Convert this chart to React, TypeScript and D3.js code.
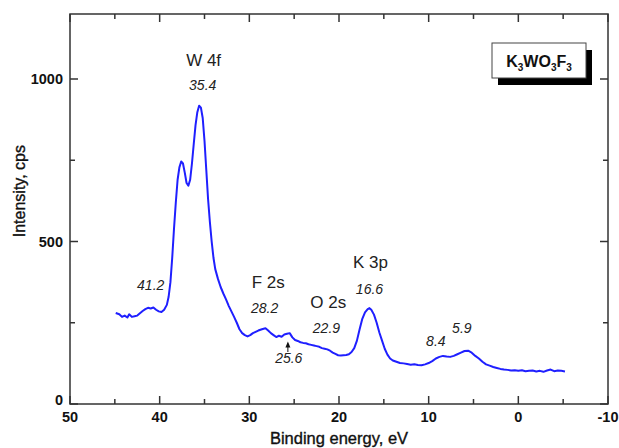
import React, { useEffect, useRef } from 'react';
import * as d3 from 'd3';

// XPS spectrum of K3WO3F3
const energy = [
  44.9, 44.5, 44.2, 43.9, 43.6, 43.4, 43.1, 42.8, 42.5, 42.2, 41.9, 41.6, 41.3, 41.0, 40.7, 40.4, 40.1, 39.8, 39.5,
  39.2, 39.0, 38.8, 38.6, 38.4, 38.2, 38.0, 37.8, 37.6, 37.4, 37.2, 37.0, 36.8, 36.6, 36.4, 36.2, 36.0, 35.8,
  35.6, 35.4, 35.2, 35.0, 34.8, 34.6, 34.4, 34.2, 34.0, 33.8, 33.5, 33.2, 32.9, 32.6, 32.3, 32.0, 31.7, 31.4,
  31.1, 30.8, 30.5, 30.2, 29.9, 29.6, 29.3, 29.0, 28.6, 28.2, 27.9, 27.6, 27.3, 27.0, 26.7, 26.4, 26.1, 25.8,
  25.5, 25.2, 24.9, 24.6, 24.3, 24.0, 23.7, 23.4, 23.1, 22.8, 22.5, 22.2, 21.9, 21.6, 21.3, 21.0, 20.7, 20.4,
  20.1, 19.8, 19.5, 19.2, 18.9, 18.6, 18.3, 18.0, 17.7, 17.4, 17.1, 16.8, 16.6, 16.4, 16.1, 15.8, 15.5, 15.2,
  14.9, 14.6, 14.3, 14.0, 13.6, 13.2, 12.8, 12.4, 12.0, 11.6, 11.2, 10.8, 10.4, 10.0, 9.6, 9.2, 8.8, 8.4, 8.0,
  7.6, 7.2, 6.8, 6.4, 6.0, 5.6, 5.2, 4.8, 4.4, 4.0, 3.6, 3.2, 2.8, 2.4, 2.0, 1.6, 1.2, 0.8, 0.4, 0.0, -0.4,
  -0.8, -1.2, -1.6, -2.0, -2.4, -2.8, -3.2, -3.6, -4.0, -4.4, -4.8, -5.2,
];
const intensity = [
  280, 276, 268, 272, 266, 276, 268, 270, 272, 279, 286, 292, 296, 294, 297, 290, 285, 283, 290,
  305, 330, 375, 450, 540, 620, 690, 728, 746, 740, 712, 680, 672, 690, 740, 800, 858, 898,
  918, 912, 880, 810, 720, 630, 560, 500, 450, 415, 385, 360, 340, 322, 302, 285, 268, 250,
  230, 218, 212, 208, 212, 218, 222, 226, 230, 233, 226, 218, 212, 206, 210, 207, 214, 216,
  218, 205, 197, 194, 190, 188, 187, 184, 182, 180, 178, 176, 172, 170, 168, 164, 158, 154,
  150, 149, 150, 151, 153, 160, 172, 195, 230, 262, 282, 292, 295, 290, 275, 250, 220, 195,
  170, 152, 140, 134, 130, 126, 125, 123, 121, 122, 120, 119, 122, 126, 132, 140, 145, 148, 146,
  145, 148, 153, 158, 163, 164, 158, 148, 140, 130, 122, 118, 114, 111, 108, 106, 105, 103, 104, 102, 104,
  101, 102, 103, 100, 102, 99, 103, 106, 101, 103, 102, 100,
];

const xTicks = [50, 40, 30, 20, 10, 0, -10];
const yTicks = [0, 500, 1000];

// peak annotations
const labelText = ['W 4f', '35.4', '41.2', 'F 2s', '28.2', 'O 2s', '22.9', 'K 3p', '16.6', '8.4', '5.9', '25.6'];
const labelX = [35.1, 35.2, 41.0, 27.9, 28.3, 21.2, 21.4, 16.5, 16.6, 9.2, 6.3, 25.6];
const labelY = [1040, 967, 352, 358, 280, 294, 220, 417, 340, 180, 220, 125];
const labelItalic = [false, true, true, false, true, false, true, false, true, true, true, true];

const legendParts = ['K', '3', 'WO', '3', 'F', '3'];

const W = 619;
const H = 448;
const margin = { top: 14, right: 11, bottom: 44, left: 70 };
const font = '"Liberation Sans", Arial, sans-serif';

export default function App() {
  const ref = useRef<SVGSVGElement>(null);

  useEffect(() => {
    const svg = d3.select(ref.current);
    svg.selectAll('*').remove();

    const x = d3.scaleLinear().domain([50, -10]).range([margin.left, W - margin.right]);
    const y = d3.scaleLinear().domain([0, 1200]).range([H - margin.bottom, margin.top]);

    const x0 = x(50), x1 = x(-10), y0 = y(0), y1 = y(1200);

    // frame
    svg.append('rect')
      .attr('x', x0).attr('y', y1)
      .attr('width', x1 - x0).attr('height', y0 - y1)
      .attr('fill', 'none').attr('stroke', '#333').attr('stroke-width', 1.5);

    const ticks = svg.append('g').attr('stroke', '#333').attr('stroke-width', 1.5);
    d3.range(50, -10.1, -5).forEach((v) => {
      const len = v % 10 === 0 ? 8 : 5;
      ticks.append('line').attr('x1', x(v)).attr('x2', x(v)).attr('y1', y0).attr('y2', y0 - len);
      ticks.append('line').attr('x1', x(v)).attr('x2', x(v)).attr('y1', y1).attr('y2', y1 + len);
    });
    d3.range(0, 1201, 250).forEach((v) => {
      const len = v % 500 === 0 ? 8 : 5;
      ticks.append('line').attr('y1', y(v)).attr('y2', y(v)).attr('x1', x0).attr('x2', x0 + len);
      ticks.append('line').attr('y1', y(v)).attr('y2', y(v)).attr('x1', x1).attr('x2', x1 - len);
    });

    const tl = svg.append('g').attr('font-family', font).attr('font-weight', 'bold').attr('font-size', 14.5).attr('fill', '#111');
    xTicks.forEach((v) => {
      tl.append('text').attr('x', x(v)).attr('y', y0 + 18).attr('text-anchor', 'middle').text(v);
    });
    yTicks.forEach((v) => {
      tl.append('text').attr('x', x0 - 7).attr('y', y(v) + (v === 0 ? 1 : 5)).attr('text-anchor', 'end').text(v);
    });

    svg.append('text')
      .attr('x', (x0 + x1) / 2).attr('y', H - 4)
      .attr('text-anchor', 'middle')
      .attr('font-family', font).attr('font-size', 16.5).attr('fill', '#111')
      .attr('stroke', '#111').attr('stroke-width', 0.35)
      .text('Binding energy, eV');

    svg.append('text')
      .attr('transform', `translate(25,${y(655)}) rotate(-90)`)
      .attr('text-anchor', 'middle')
      .attr('font-family', font).attr('font-size', 16).attr('fill', '#111')
      .attr('stroke', '#111').attr('stroke-width', 0.35)
      .text('Intensity, cps');

    const data = energy.map((e, i) => [e, intensity[i]] as [number, number]);
    const line = d3.line<[number, number]>()
      .x((d) => x(d[0]))
      .y((d) => y(d[1]));
    svg.append('path')
      .datum(data)
      .attr('fill', 'none')
      .attr('stroke', '#1f1fff')
      .attr('stroke-width', 2)
      .attr('stroke-linejoin', 'round')
      .attr('d', line);

    const lg = svg.append('g').attr('font-family', font).attr('fill', '#222');
    labelText.forEach((t, i) => {
      lg.append('text')
        .attr('x', x(labelX[i])).attr('y', y(labelY[i]))
        .attr('text-anchor', 'middle')
        .attr('font-size', labelItalic[i] ? 14 : 17)
        .attr('font-style', labelItalic[i] ? 'italic' : 'normal')
        .text(t);
    });

    // small arrow to the 25.6 shoulder
    svg.append('line')
      .attr('x1', x(25.7)).attr('x2', x(25.7))
      .attr('y1', y(160)).attr('y2', y(186))
      .attr('stroke', '#111').attr('stroke-width', 1);
    svg.append('path')
      .attr('d', `M${x(25.7)},${y(192)} l-2.5,6 l5,0 z`)
      .attr('fill', '#111');

    // legend box with drop shadow
    const bx = 492, by = 43, bw = 94, bh = 35;
    svg.append('rect').attr('x', bx + 6).attr('y', by + 7).attr('width', bw).attr('height', bh).attr('fill', '#000');
    svg.append('rect').attr('x', bx).attr('y', by).attr('width', bw).attr('height', bh)
      .attr('fill', '#fff').attr('stroke', '#444').attr('stroke-width', 1);
    const lt = svg.append('text')
      .attr('x', bx + bw / 2).attr('y', by + 24)
      .attr('text-anchor', 'middle')
      .attr('font-family', font).attr('font-weight', 'bold').attr('fill', '#111');
    legendParts.forEach((s, i) => {
      const sub = i % 2 === 1;
      lt.append('tspan')
        .attr('dy', sub ? 4 : i === 0 ? 0 : -4)
        .attr('font-size', sub ? 10 : 16)
        .text(s);
    });
  }, []);

  return (
    <svg
      ref={ref}
      width={W}
      height={H}
      style={{ position: 'absolute', left: 0, top: 0, background: '#fff' }}
    />
  );
}
